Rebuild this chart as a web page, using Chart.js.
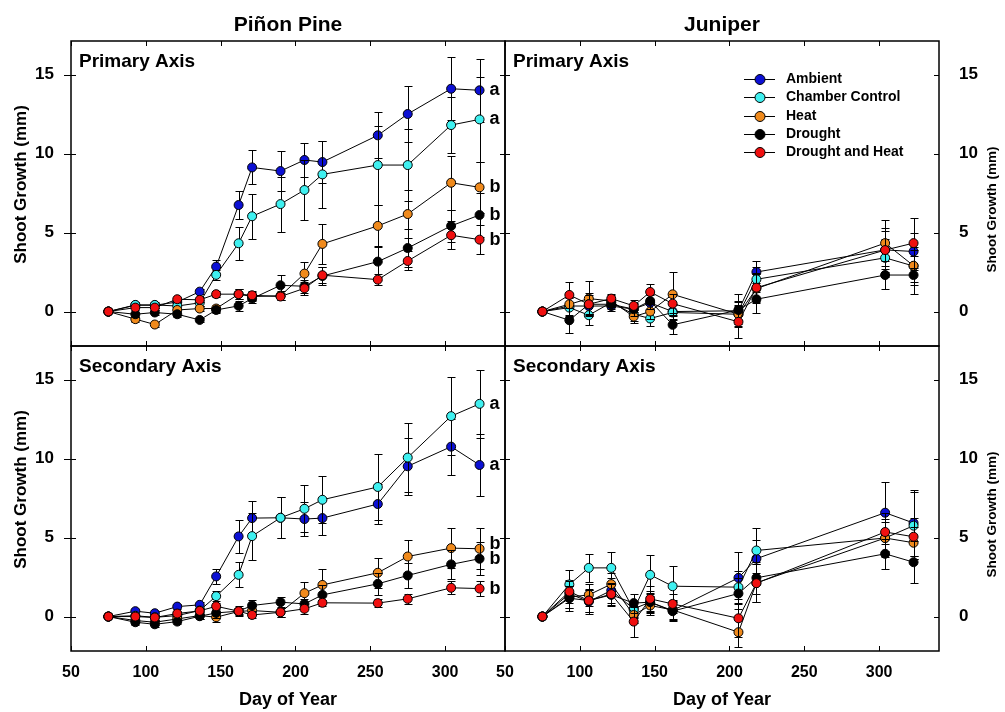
<!DOCTYPE html>
<html>
<head>
<meta charset="utf-8">
<script src="https://cdn.jsdelivr.net/npm/chart.js@4.4.1/dist/chart.umd.min.js"></script>
<style>
  html, body { margin: 0; padding: 0; background: #fff; }
  #wrap { position: relative; width: 1005px; height: 712px; }
</style>
</head>
<body>
<div id="wrap"><canvas id="growthChart" width="1005" height="712"></canvas></div>
<script>
const FONT = "'Liberation Sans', Arial, sans-serif";

const seriesNames = ['Ambient', 'Chamber Control', 'Heat', 'Drought', 'Drought and Heat'];
const seriesColors = ['#0c10d4', '#3ff0f0', '#f08a1c', '#000000', '#f01010'];
const columnTitles = ['Piñon Pine', 'Juniper'];

const pineDays = [75, 93, 106, 121, 136, 147, 162, 171, 190, 206, 218, 255, 275, 304, 323];
const juniperDays = [75, 93, 106, 121, 136, 147, 162, 206, 218, 304, 323];

const xTicks = [50, 100, 150, 200, 250, 300];
const yTicks = [0, 5, 10, 15];

// one row per treatment, same order as seriesNames
const pinePrimaryMean = [
  [0, 0.4, 0.4, 0.6, 1.26, 2.84, 6.74, 9.12, 8.89, 9.59, 9.46, 11.15, 12.5, 14.1, 14.0],
  [0, 0.42, 0.42, 0.35, 0.55, 2.32, 4.32, 6.03, 6.8, 7.69, 8.68, 9.27, 9.27, 11.8, 12.16],
  [0, -0.48, -0.82, 0.1, 0.19, 0.19, 1.1, 0.95, 1.0, 2.4, 4.28, 5.42, 6.17, 8.15, 7.86],
  [0, -0.17, -0.06, -0.17, -0.53, 0.1, 0.36, 0.82, 1.66, 1.6, 2.25, 3.16, 4.02, 5.42, 6.11],
  [0, 0.25, 0.25, 0.78, 0.74, 1.1, 1.1, 1.03, 0.95, 1.47, 2.3, 2.02, 3.2, 4.83, 4.55]
];
const pinePrimaryErr = [
  [0, 0.15, 0.15, 0.2, 0.15, 0.4, 0.87, 1.08, 1.26, 1.1, 1.35, 1.45, 1.8, 2.0, 2.0],
  [0, 0.2, 0.2, 0.2, 0.2, 0.3, 1.03, 1.43, 1.74, 1.87, 2.1, 2.5, 2.3, 1.75, 2.7],
  [0, 0.15, 0.15, 0.15, 0.15, 0.2, 0.3, 0.3, 0.3, 0.75, 1.25, 1.35, 1.5, 1.7, 1.6],
  [0, 0.15, 0.15, 0.2, 0.15, 0.2, 0.3, 0.3, 0.65, 0.4, 0.6, 1.0, 1.2, 1.0, 1.4],
  [0, 0.15, 0.15, 0.15, 0.15, 0.2, 0.3, 0.3, 0.25, 0.4, 0.5, 0.35, 0.6, 0.9, 0.9]
];
const pinePrimaryLetters = ['a', 'a', 'b', 'b', 'b'];

const pineSecondaryMean = [
  [0, 0.34, 0.21, 0.63, 0.74, 2.54, 5.07, 6.23, 6.25, 6.17, 6.23, 7.12, 9.51, 10.75, 9.59],
  [0, 0.05, -0.05, 0.06, 0.38, 1.29, 2.64, 5.09, 6.25, 6.82, 7.39, 8.2, 10.06, 12.68, 13.46],
  [0, -0.25, -0.36, -0.15, 0.06, -0.04, 0.32, 0.38, 0.27, 1.48, 2.0, 2.77, 3.8, 4.33, 4.29],
  [0, -0.36, -0.49, -0.32, 0.02, 0.23, 0.34, 0.7, 0.91, 0.8, 1.37, 2.07, 2.6, 3.3, 3.66],
  [0, 0, -0.06, 0.19, 0.36, 0.65, 0.34, 0.1, 0.27, 0.49, 0.87, 0.85, 1.12, 1.82, 1.77]
];
const pineSecondaryErr = [
  [0, 0.15, 0.15, 0.15, 0.2, 0.5, 1.07, 1.08, 1.3, 1.05, 1.1, 1.25, 1.8, 1.77, 1.96],
  [0, 0.15, 0.15, 0.15, 0.2, 0.3, 0.8, 1.48, 1.3, 1.5, 1.48, 2.1, 2.2, 2.45, 2.17],
  [0, 0.15, 0.15, 0.15, 0.2, 0.3, 0.2, 0.3, 0.3, 0.7, 0.98, 0.95, 1.07, 1.27, 1.3],
  [0, 0.15, 0.2, 0.15, 0.2, 0.3, 0.3, 0.35, 0.3, 0.3, 0.6, 0.7, 0.8, 0.9, 1.06],
  [0, 0.15, 0.15, 0.15, 0.2, 0.2, 0.2, 0.2, 0.3, 0.3, 0.2, 0.25, 0.3, 0.4, 0.45]
];
const pineSecondaryLetters = ['a', 'a', 'b', 'b', 'b'];

const juniperPrimaryMean = [
  [0, 0.35, 0.35, 0.35, 0.15, 0.55, 0, 0.05, 2.5, 3.9, 3.8],
  [0, 0.25, -0.23, 0.57, -0.17, -0.44, -0.06, -0.17, 2.04, 3.4, 2.88],
  [0, 0.46, 0.82, 0.67, -0.32, 0, 1.09, -0.17, 1.45, 4.33, 2.9],
  [0, -0.55, 0.46, 0.46, 0.15, 0.67, -0.84, 0.1, 0.78, 2.31, 2.31],
  [0, 1.05, 0.46, 0.82, 0.36, 1.24, 0.5, -0.65, 1.51, 3.89, 4.33]
];
const juniperPrimaryErr = [
  [0, 0.6, 0.5, 0.3, 0.3, 0.5, 0.5, 0.6, 0.7, 1.4, 1.2],
  [0, 0.6, 0.6, 0.3, 0.4, 0.5, 0.5, 0.6, 0.8, 1.2, 1.0],
  [0, 0.7, 1.1, 0.4, 0.4, 0.5, 1.4, 0.8, 0.9, 1.47, 1.2],
  [0, 0.8, 0.6, 0.3, 0.4, 0.5, 0.6, 1.0, 0.9, 0.9, 1.2],
  [0, 0.8, 0.7, 0.3, 0.4, 0.5, 0.6, 1.0, 0.9, 1.2, 1.6]
];

const juniperSecondaryMean = [
  [0, 1.44, 0.95, 1.65, 0.49, 0.91, 0.38, 2.45, 3.66, 6.57, 5.92],
  [0, 2.03, 3.08, 3.08, 0.42, 2.64, 1.92, 1.86, 4.18, 4.97, 5.75],
  [0, 1.23, 1.37, 2.05, 0.1, 0.7, 0.42, -0.99, 2.13, 4.97, 4.67],
  [0, 1.16, 1.01, 1.37, 0.85, 0.91, 0.34, 1.46, 2.45, 3.97, 3.44],
  [0, 1.58, 1.01, 1.42, -0.32, 1.12, 0.8, -0.11, 2.11, 5.35, 5.05]
];
const juniperSecondaryErr = [
  [0, 0.9, 0.8, 0.8, 0.5, 0.7, 0.6, 1.63, 1.2, 1.95, 2.1],
  [0, 0.9, 0.9, 0.99, 0.5, 1.23, 1.3, 1.0, 1.44, 1.2, 2.1],
  [0, 0.7, 0.7, 0.7, 0.5, 0.6, 0.6, 0.95, 1.2, 1.0, 1.0],
  [0, 0.8, 0.7, 0.7, 0.6, 0.6, 0.6, 1.0, 1.0, 0.95, 1.33],
  [0, 0.7, 0.7, 0.7, 1.0, 0.8, 0.6, 1.2, 1.2, 1.2, 1.2]
];

const panels = [
  { name: 'Primary Axis', days: pineDays, mean: pinePrimaryMean, err: pinePrimaryErr, letters: pinePrimaryLetters, x: 'xPine', y: 'yPineTop' },
  { name: 'Secondary Axis', days: pineDays, mean: pineSecondaryMean, err: pineSecondaryErr, letters: pineSecondaryLetters, x: 'xPine', y: 'yPineBottom' },
  { name: 'Primary Axis', days: juniperDays, mean: juniperPrimaryMean, err: juniperPrimaryErr, letters: null, x: 'xJuniper', y: 'yJuniperTop', legend: true },
  { name: 'Secondary Axis', days: juniperDays, mean: juniperSecondaryMean, err: juniperSecondaryErr, letters: null, x: 'xJuniper', y: 'yJuniperBottom' }
];

// build datasets, ambient drawn first and drought+heat on top
const datasets = [];
panels.forEach(p => {
  p.mean.forEach((row, s) => {
    datasets.push({
      label: seriesNames[s],
      data: p.days.map((d, i) => ({ x: d, y: row[i] })),
      errors: p.err[s],
      xAxisID: p.x,
      yAxisID: p.y,
      order: 4 - s,
      borderColor: '#000',
      borderWidth: 1,
      backgroundColor: seriesColors[s],
      pointBackgroundColor: seriesColors[s],
      pointBorderColor: '#000',
      pointBorderWidth: 1,
      pointRadius: 4.5,
      tension: 0
    });
  });
});

function yScale(position) {
  return {
    type: 'linear',
    position: position,
    stack: position,
    min: -2.18,
    max: 17.12,
    afterBuildTicks: s => { s.ticks = yTicks.map(v => ({ value: v })); },
    afterFit: s => { s.width = position === 'left' ? 71 : 66; },
    grid: { display: false },
    border: { display: false },
    ticks: {
      color: '#000',
      padding: position === 'left' ? 9 : 12,
      font: { family: FONT, size: 17, weight: 'bold' }
    }
  };
}

function xScale() {
  return {
    type: 'linear',
    position: 'bottom',
    stack: 'bottom',
    min: 50,
    max: 340,
    afterBuildTicks: s => { s.ticks = xTicks.map(v => ({ value: v })); },
    afterFit: s => { s.height = 61; },
    grid: { display: false },
    border: { display: false },
    ticks: {
      color: '#000',
      padding: 4,
      autoSkip: false,
      maxRotation: 0,
      font: { family: FONT, size: 16, weight: 'bold' }
    },
    title: {
      display: true,
      text: 'Day of Year',
      color: '#000',
      padding: { top: 0, bottom: 1 },
      font: { family: FONT, size: 18, weight: 'bold' }
    }
  };
}

// error bars, panel frames with inward ticks, labels and legend
const panelDecor = {
  id: 'panelDecor',
  beforeDatasetDraw(chart, args) {
    const ds = chart.data.datasets[args.index];
    const xs = chart.scales[ds.xAxisID];
    const ys = chart.scales[ds.yAxisID];
    const ctx = chart.ctx;
    ctx.save();
    ctx.strokeStyle = '#000';
    ctx.lineWidth = 1;
    ctx.beginPath();
    ds.data.forEach((pt, i) => {
      const e = ds.errors[i];
      if (!e) return;
      const px = Math.round(xs.getPixelForValue(pt.x)) + 0.5;
      const y1 = Math.round(ys.getPixelForValue(pt.y + e)) + 0.5;
      const y2 = Math.round(ys.getPixelForValue(pt.y - e)) + 0.5;
      ctx.moveTo(px, y1); ctx.lineTo(px, y2);
      ctx.moveTo(px - 4, y1); ctx.lineTo(px + 4, y1);
      ctx.moveTo(px - 4, y2); ctx.lineTo(px + 4, y2);
    });
    ctx.stroke();
    ctx.restore();
  },
  afterDraw(chart) {
    const ctx = chart.ctx;
    ctx.save();
    ctx.fillStyle = '#000';
    ctx.strokeStyle = '#000';

    panels.forEach(p => {
      const xs = chart.scales[p.x];
      const ys = chart.scales[p.y];
      const L = Math.round(xs.left), R = Math.round(xs.right);
      const T = Math.round(ys.top), B = Math.round(ys.bottom);
      const outer = ys.position === 'left' ? 7 : 0;

      ctx.lineWidth = 1.5;
      ctx.strokeRect(L, T, R - L, B - T);
      ctx.lineWidth = 1;
      ctx.beginPath();
      xTicks.forEach(v => {
        const px = Math.round(xs.getPixelForValue(v)) + 0.5;
        ctx.moveTo(px, T); ctx.lineTo(px, T + 5);
        ctx.moveTo(px, B); ctx.lineTo(px, B - 5);
      });
      yTicks.forEach(v => {
        const py = Math.round(ys.getPixelForValue(v)) + 0.5;
        ctx.moveTo(L - outer, py); ctx.lineTo(L + 5, py);
        ctx.moveTo(R, py); ctx.lineTo(R - 5, py);
      });
      ctx.stroke();

      ctx.font = 'bold 19px ' + FONT;
      ctx.textAlign = 'left';
      ctx.textBaseline = 'alphabetic';
      ctx.fillText(p.name, L + 8, T + 26);

      if (p.letters) {
        const last = p.days.length - 1;
        const lx = xs.getPixelForValue(p.days[last]) + 10;
        const items = p.mean.map((row, s) => ({ t: p.letters[s], y: ys.getPixelForValue(row[last]) }));
        items.sort((a, b) => a.y - b.y);
        for (let i = items.length - 2; i >= 0; i--) {
          if (items[i + 1].y - items[i].y < 15) items[i].y = items[i + 1].y - 15;
        }
        ctx.font = 'bold 18px ' + FONT;
        ctx.textBaseline = 'middle';
        items.forEach(it => ctx.fillText(it.t, lx, it.y));
      }

      if (p.legend) {
        const lx = xs.left + 239;
        const ly = ys.top + 38.3;
        seriesNames.forEach((name, s) => {
          const y = Math.round(ly + s * 18.1) + 0.5;
          ctx.lineWidth = 1;
          ctx.beginPath();
          ctx.moveTo(lx, y); ctx.lineTo(lx + 31, y);
          ctx.stroke();
          ctx.beginPath();
          ctx.arc(lx + 16, y, 5, 0, Math.PI * 2);
          ctx.fillStyle = seriesColors[s];
          ctx.fill();
          ctx.stroke();
          ctx.fillStyle = '#000';
          ctx.font = 'bold 14px ' + FONT;
          ctx.textAlign = 'left';
          ctx.textBaseline = 'middle';
          ctx.fillText(name, lx + 42, y);
        });
      }

      // y axis titles, both reading bottom to top
      const left = ys.position === 'left';
      ctx.save();
      ctx.translate(left ? 21.7 : 992, (ys.top + ys.bottom) / 2 + (left ? -9 : 16));
      ctx.rotate(-Math.PI / 2);
      ctx.font = 'bold ' + (left ? 17 : 13.5) + 'px ' + FONT;
      ctx.textAlign = 'center';
      ctx.textBaseline = 'middle';
      ctx.fillText('Shoot Growth (mm)', 0, 0);
      ctx.restore();
    });

    ['xPine', 'xJuniper'].forEach((id, c) => {
      const xs = chart.scales[id];
      ctx.font = 'bold 21px ' + FONT;
      ctx.textAlign = 'center';
      ctx.textBaseline = 'alphabetic';
      ctx.fillText(columnTitles[c], (xs.left + xs.right) / 2, 31);
    });
    ctx.restore();
  }
};

Chart.defaults.font.family = FONT;

const growthChart = new Chart(document.getElementById('growthChart'), {
  type: 'line',
  data: { datasets: datasets },
  options: {
    responsive: false,
    devicePixelRatio: 1,
    animation: false,
    events: [],
    layout: { padding: { top: 41, left: 0, right: 0, bottom: 0 } },
    plugins: {
      legend: { display: false },
      tooltip: { enabled: false }
    },
    // left boxes are stacked in reverse, so the bottom pine axis is listed first
    scales: {
      xPine: xScale(),
      xJuniper: xScale(),
      yPineBottom: yScale('left'),
      yPineTop: yScale('left'),
      yJuniperTop: yScale('right'),
      yJuniperBottom: yScale('right')
    }
  },
  plugins: [panelDecor]
});
</script>
</body>
</html>
